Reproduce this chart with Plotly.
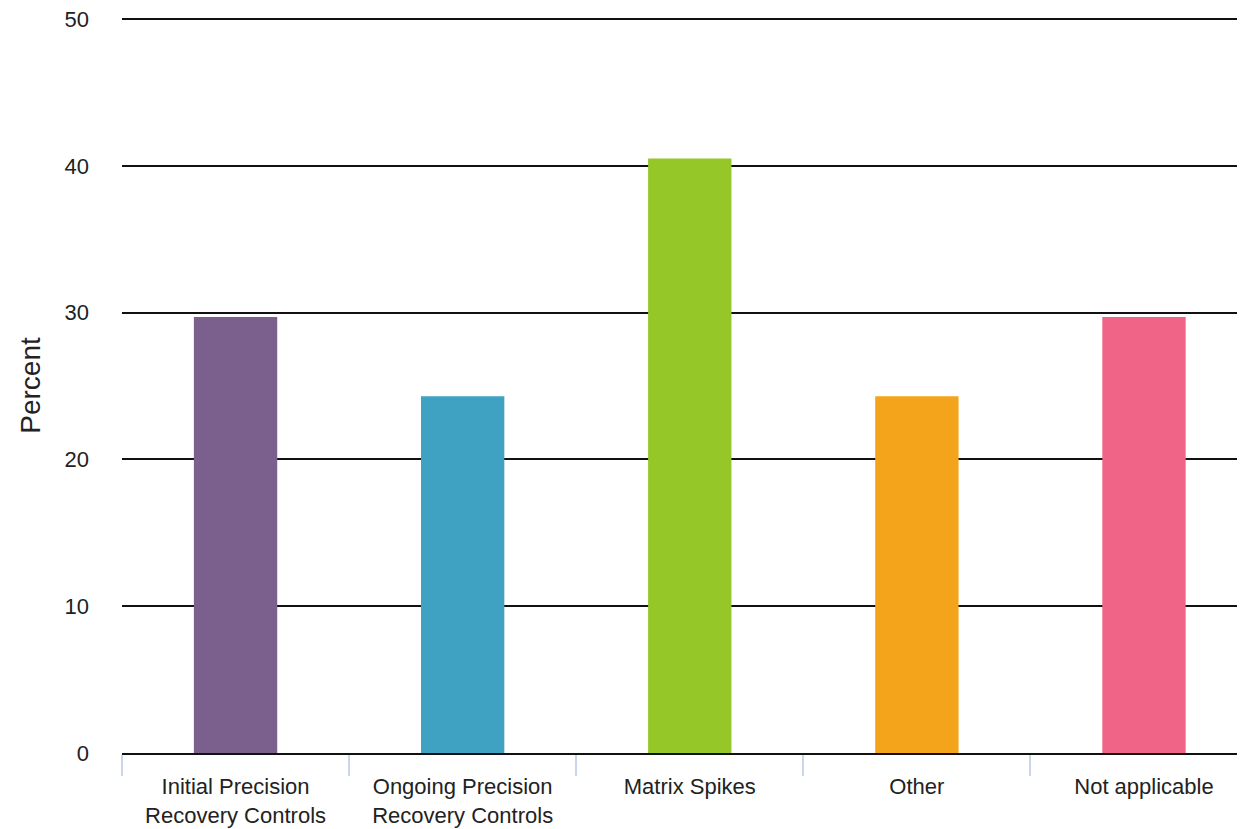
import plotly.graph_objects as go

categories = ["Initial Precision<br>Recovery Controls", "Ongoing Precision<br>Recovery Controls",
              "Matrix Spikes", "Other", "Not applicable"]
values = [29.7, 24.3, 40.5, 24.3, 29.7]
colors = ["#7b5f8d", "#3fa2c2", "#95c728", "#f4a41b", "#f06487"]
y_ticks = [0, 10, 20, 30, 40, 50]

fig = go.Figure(go.Bar(
    x=categories, y=values, marker=dict(color=colors, line=dict(width=0)),
    width=0.367, hoverinfo="x+y",
))

font_family = "Liberation Sans, Arial, sans-serif"
fig.update_layout(
    width=1245, height=829,
    margin=dict(l=114, r=0, t=10, b=84),
    plot_bgcolor="white", paper_bgcolor="white",
    showlegend=False,
    font=dict(family=font_family, size=22, color="#222222"),
)
fig.update_xaxes(
    type="category", range=[-0.5, 4.48], automargin=False,
    tickson="boundaries", ticks="outside", ticklen=21, tickwidth=2, tickcolor="#ccd6eb",
    showgrid=False, showline=True, linecolor="#111111", linewidth=2,
    ticklabelstandoff=13,
    tickfont=dict(size=22, color="#222222"),
)
fig.update_yaxes(
    range=[0, 50.07], tickvals=y_ticks, showgrid=True, gridcolor="#111111", gridwidth=2,
    zeroline=False, showline=False, ticks="", ticklabelstandoff=32,
    ticklabeloverflow="allow", automargin=False,
    tickfont=dict(size=22, color="#222222"),
    title=dict(text="Percent", font=dict(size=28, color="#222222"), standoff=15),
)
fig.write_html("out.html")
